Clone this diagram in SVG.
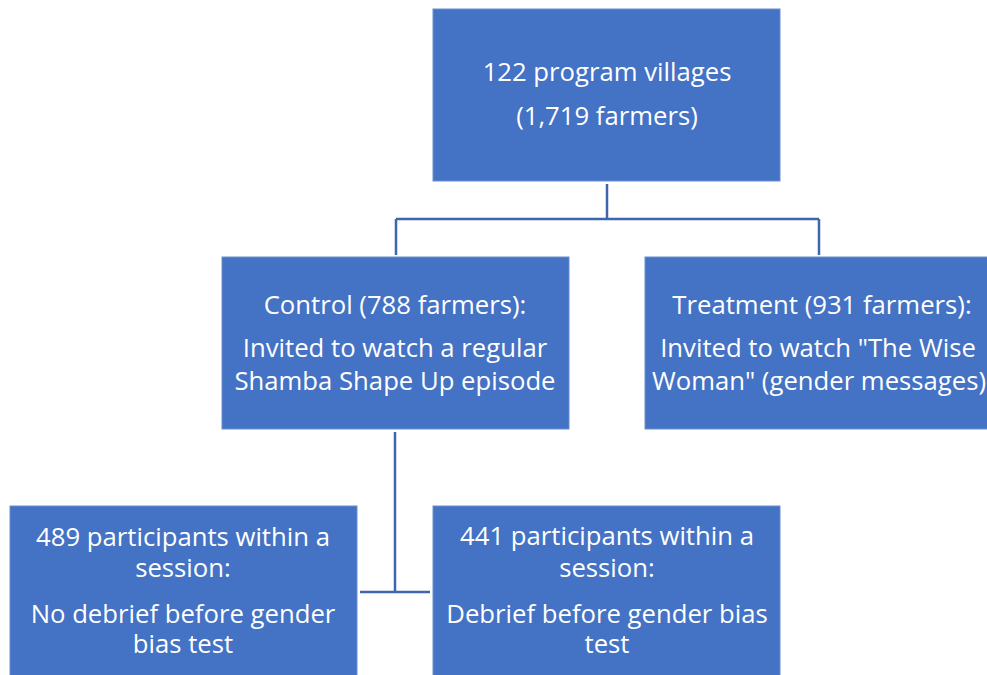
<svg xmlns="http://www.w3.org/2000/svg" width="987" height="675" viewBox="0 0 987 675">
<style>
.box{fill:#4472C4;stroke:#6A8FD0;stroke-width:1}
.t{font-family:"Open Sans","Liberation Sans",sans-serif;font-size:25.7px;fill:#FFFFFF;text-anchor:middle}
.c{stroke:#3F65AD;stroke-width:2.5;fill:none}
</style>
<rect width="987" height="675" fill="#FFFFFF"/>
<g id="connectors">
<path class="c" d="M607 184V219M396 219H819M396 219V255M819 219V255"/>
<path class="c" d="M395 432V592M360 592H430"/>
</g>
<g id="root">
<rect class="box" x="433" y="9" width="347" height="172"/>
<text class="t" x="607" y="81">122 program villages</text>
<text class="t" x="607" y="125">(1,719 farmers)</text>
</g>
<g id="control">
<rect class="box" x="222" y="257" width="347" height="172"/>
<text class="t" x="395" y="314">Control (788 farmers):</text>
<text class="t" x="395" y="357">Invited to watch a regular</text>
<text class="t" x="395" y="390">Shamba Shape Up episode</text>
</g>
<g id="treatment">
<rect class="box" x="645" y="257" width="347" height="172"/>
<text class="t" x="822" y="314">Treatment (931 farmers):</text>
<text class="t" x="818" y="357">Invited to watch "The Wise</text>
<text class="t" x="819" y="390">Woman" (gender messages)</text>
</g>
<g id="no-debrief">
<rect class="box" x="10" y="506" width="347" height="175"/>
<text class="t" x="183" y="546">489 participants within a</text>
<text class="t" x="183" y="577">session:</text>
<text class="t" x="183" y="623">No debrief before gender</text>
<text class="t" x="183" y="653">bias test</text>
</g>
<g id="debrief">
<rect class="box" x="433" y="506" width="347" height="175"/>
<text class="t" x="607" y="545">441 participants within a</text>
<text class="t" x="607" y="577">session:</text>
<text class="t" x="607" y="623">Debrief before gender bias</text>
<text class="t" x="607" y="653">test</text>
</g>
</svg>
